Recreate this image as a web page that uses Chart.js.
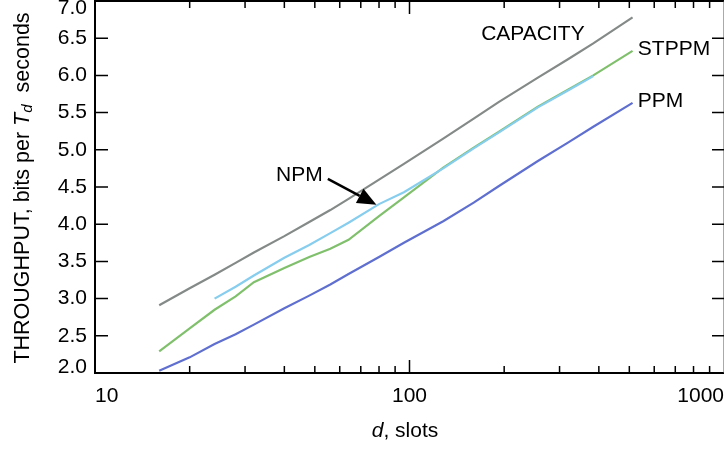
<!DOCTYPE html>
<html>
<head>
<meta charset="utf-8">
<script src="https://cdn.jsdelivr.net/npm/chart.js@4.4.0/dist/chart.umd.min.js"></script>
<style>
  html, body { margin: 0; padding: 0; background: #fff; }
  #wrap { width: 724px; height: 452px; }
</style>
</head>
<body>
<div id="wrap"><canvas id="chart"></canvas></div>
<script>
"use strict";
// d, slots (log axis)
var dSlots = [16, 20, 24, 28, 32, 40, 48, 56, 64, 80, 96, 128, 160, 192, 256, 320, 384, 512];
// throughput, bits per Td seconds
var capacity = [2.91, 3.14, 3.32, 3.48, 3.62, 3.84, 4.03, 4.19, 4.34, 4.60, 4.81, 5.15, 5.42, 5.64, 5.97, 6.22, 6.43, 6.78];
var stppm = [2.29, 2.60, 2.85, 3.03, 3.22, 3.41, 3.56, 3.67, 3.79, 4.11, 4.36, 4.76, 5.03, 5.24, 5.58, 5.81, 6.00, 6.33];
var npm = [null, null, 3.00, 3.16, 3.31, 3.55, 3.72, 3.88, 4.02, 4.27, 4.43, 4.75, 5.02, 5.23, 5.57, 5.80, 5.99, null];
var ppm = [2.03, 2.21, 2.39, 2.52, 2.65, 2.87, 3.04, 3.19, 3.33, 3.56, 3.75, 4.04, 4.29, 4.51, 4.85, 5.10, 5.31, 5.63];

var xTickLabels = [10, 100, 1000];
var yTickLabels = ["2.0", "2.5", "3.0", "3.5", "4.0", "4.5", "5.0", "5.5", "6.0", "6.5", "7.0"];

var FONT = "'Liberation Sans', Arial, sans-serif";

function pts(vals) {
  var out = [];
  for (let i = 0; i < dSlots.length; i++) {
    if (vals[i] != null) out.push({ x: dSlots[i], y: vals[i] });
  }
  return out;
}

function series(label, vals, color) {
  return {
    label: label,
    data: pts(vals),
    borderColor: color,
    borderWidth: 2.2,
    pointRadius: 0,
    tension: 0,
    fill: false
  };
}

//frame, ticks, labels and annotations
var decor = {
  id: "decor",
  afterDraw: function (chart) {
    var ctx = chart.ctx;
    var a = chart.chartArea;
    var xs = chart.scales.x, ys = chart.scales.y;
    ctx.save();

    // frame
    ctx.strokeStyle = "#000";
    ctx.lineWidth = 2;
    ctx.beginPath();
    ctx.moveTo(a.right, a.top);
    ctx.lineTo(a.left, a.top);
    ctx.lineTo(a.left, a.bottom);
    ctx.lineTo(a.right, a.bottom);
    ctx.stroke();
    ctx.strokeStyle = "#aaa";
    ctx.lineWidth = 1;
    ctx.beginPath();
    ctx.moveTo(a.right - 0.5, a.top);
    ctx.lineTo(a.right - 0.5, a.bottom);
    ctx.stroke();

    // y ticks (left and right)
    ctx.strokeStyle = "#000";
    ctx.lineWidth = 1.5;
    ctx.beginPath();
    for (let i = 0; i < yTickLabels.length; i++) {
      var y = ys.getPixelForValue(parseFloat(yTickLabels[i]));
      ctx.moveTo(a.left, y); ctx.lineTo(a.left + 13, y);
      ctx.moveTo(a.right, y); ctx.lineTo(a.right - 12, y);
    }
    // x ticks (bottom and top)
    for (let k = 10; k < 1000; k *= 10) {
      for (let m = 1; m < 10; m++) {
        var x = xs.getPixelForValue(m * k);
        var len = m == 1 ? 13 : 7;
        ctx.moveTo(x, a.bottom); ctx.lineTo(x, a.bottom - len);
        ctx.moveTo(x, a.top); ctx.lineTo(x, a.top + len);
      }
    }
    ctx.stroke();

    // tick labels
    ctx.fillStyle = "#000";
    ctx.font = "21px " + FONT;
    ctx.textAlign = "right";
    ctx.textBaseline = "middle";
    for (let i = 0; i < yTickLabels.length; i++) {
      var ty = ys.getPixelForValue(parseFloat(yTickLabels[i]));
      ty = Math.min(Math.max(ty, 8), a.bottom - 6);
      ctx.fillText(yTickLabels[i], a.left - 8, ty);
    }
    for (let i = 0; i < xTickLabels.length; i++) {
      var tx = xs.getPixelForValue(xTickLabels[i]);
      ctx.textAlign = i == 0 ? "left" : (i == xTickLabels.length - 1 ? "right" : "center");
      ctx.fillText(String(xTickLabels[i]), tx, a.bottom + 23);
    }

    // x title: "d, slots"
    ctx.textAlign = "left";
    var it = "italic 21px " + FONT, rg = "21px " + FONT;
    ctx.font = it; var w1 = ctx.measureText("d").width;
    ctx.font = rg; var w2 = ctx.measureText(", slots").width;
    var sx = 405 - (w1 + w2) / 2;
    ctx.font = it; ctx.fillText("d", sx, a.bottom + 58);
    ctx.font = rg; ctx.fillText(", slots", sx + w1, a.bottom + 58);

    // y title: THROUGHPUT, bits per Td seconds
    var yt = "21.5px " + FONT;
    var parts = [
      { t: "THROUGHPUT, bits per ", f: yt, dy: 0 },
      { t: "T", f: "italic " + yt, dy: 0 },
      { t: "d", f: "italic 15px " + FONT, dy: 5 },
      { t: "  seconds", f: yt, dy: 0 }
    ];
    var total = 0;
    parts.forEach(function (p) { ctx.font = p.f; p.w = ctx.measureText(p.t).width; total += p.w; });
    ctx.translate(23, 188);
    ctx.rotate(-Math.PI / 2);
    var px = -total / 2;
    parts.forEach(function (p) { ctx.font = p.f; ctx.fillText(p.t, px, p.dy); px += p.w; });
    ctx.setTransform(1, 0, 0, 1, 0, 0);

    // series labels
    ctx.font = rg;
    ctx.textAlign = "left";
    ctx.fillText("CAPACITY", xs.getPixelForValue(169), ys.getPixelForValue(6.55));
    ctx.fillText("STPPM", xs.getPixelForValue(532), ys.getPixelForValue(6.35));
    ctx.fillText("PPM", xs.getPixelForValue(532), ys.getPixelForValue(5.65));
    ctx.textAlign = "right";
    ctx.fillText("NPM", xs.getPixelForValue(53), ys.getPixelForValue(4.66));

    // arrow to NPM
    var x0 = xs.getPixelForValue(55), y0 = ys.getPixelForValue(4.61);
    var x1 = xs.getPixelForValue(78.5), y1 = ys.getPixelForValue(4.26);
    var ang = Math.atan2(y1 - y0, x1 - x0);
    var hl = 19, hw = 8;
    var bx = x1 - hl * Math.cos(ang), by = y1 - hl * Math.sin(ang);
    ctx.lineWidth = 2.5;
    ctx.beginPath();
    ctx.moveTo(x0, y0); ctx.lineTo(bx, by);
    ctx.stroke();
    ctx.beginPath();
    ctx.moveTo(x1, y1);
    ctx.lineTo(bx + hw * Math.sin(ang), by - hw * Math.cos(ang));
    ctx.lineTo(bx - hw * Math.sin(ang), by + hw * Math.cos(ang));
    ctx.closePath();
    ctx.fill();

    ctx.restore();
  }
};

new Chart(document.getElementById("chart"), {
  type: "line",
  data: {
    datasets: [
      series("CAPACITY", capacity, "#848a87"),
      series("NPM", npm, "#86cdee"),
      series("STPPM", stppm, "#80c06c"),
      series("PPM", ppm, "#5f6fcf")
    ]
  },
  options: {
    responsive: true,
    maintainAspectRatio: false,
    animation: false,
    devicePixelRatio: 1,
    layout: { padding: { left: 95, right: 0, top: 1, bottom: 79 } },
    plugins: { legend: { display: false }, tooltip: { enabled: false } },
    scales: {
      x: { type: "logarithmic", min: 10, max: 1000, display: false },
      y: { type: "linear", min: 2, max: 7, display: false }
    }
  },
  plugins: [decor]
});
</script>
</body>
</html>
